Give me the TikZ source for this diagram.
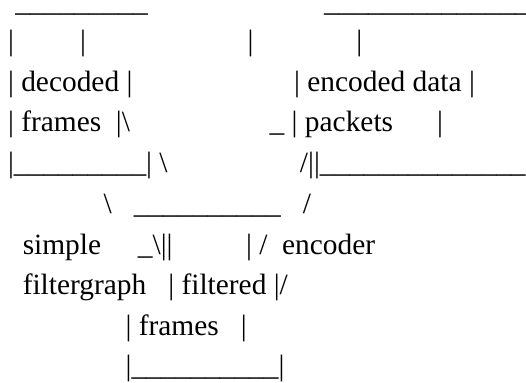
\documentclass[tikz,border=0pt]{standalone}
\usepackage{fontspec}
\setmainfont{Liberation Serif}
\ExplSyntaxOn
\cs_new:Npn \us #1 { \prg_replicate:nn {#1} { \textunderscore } }
\ExplSyntaxOff
\newcommand\sps[1]{\hspace*{#1\fontdimen2\font}}
\newcommand\bs{\textbackslash}
\newcommand\br{\textbar}
\tikzset{asciiline/.style={anchor=base west, inner sep=0pt, outer sep=0pt,
  font=\fontsize{29.4pt}{40.6pt}\selectfont, text=black}}
\begin{document}
\begin{tikzpicture}[x=1pt,y=1pt]
\fill[white] (0,0) rectangle (526,-382);
\clip (0,0) rectangle (526,-382);
\node[asciiline, text height=0pt, text depth=5pt] (l1) at (8.06,-11.5) {\sps{1}\us{9}\sps{24}\us{14}};
\node[asciiline] (l2) at (8.06,-50.3) {\br\sps{9}\br\sps{22}\br\sps{14}\br};
\node[asciiline] (l3) at (8.06,-91.4) {\br\sps{1}decoded\sps{1}\br\sps{22}\br\sps{1}encoded\sps{1}data\sps{1}\br};
\node[asciiline] (l4) at (8.06,-131.8) {\br\sps{1}frames\sps{2}\br\bs\sps{19}\us{1}\sps{1}\br\sps{1}packets\sps{6}\br};
\node[asciiline] (l5) at (8.06,-172.2) {\br\us{9}\br\sps{1}\bs\sps{18}/\br\br\us{14}};
\node[asciiline] (l6) at (8.06,-213) {\sps{13}\bs\sps{3}\us{10}\sps{3}/};
\node[asciiline] (l7) at (8.06,-254.6) {\sps{2}simple\sps{5}\us{1}\bs\br\br\sps{10}\br\sps{1}/\sps{2}encoder};
\node[asciiline] (l8) at (8.06,-294.8) {\sps{2}filtergraph\sps{3}\br\sps{1}filtered\sps{1}\br/};
\node[asciiline] (l9) at (8.06,-335) {\sps{16}\br\sps{1}frames\sps{3}\br};
\node[asciiline] (l10) at (8.06,-375.2) {\sps{16}\br\us{10}\br};
\end{tikzpicture}
\end{document}
